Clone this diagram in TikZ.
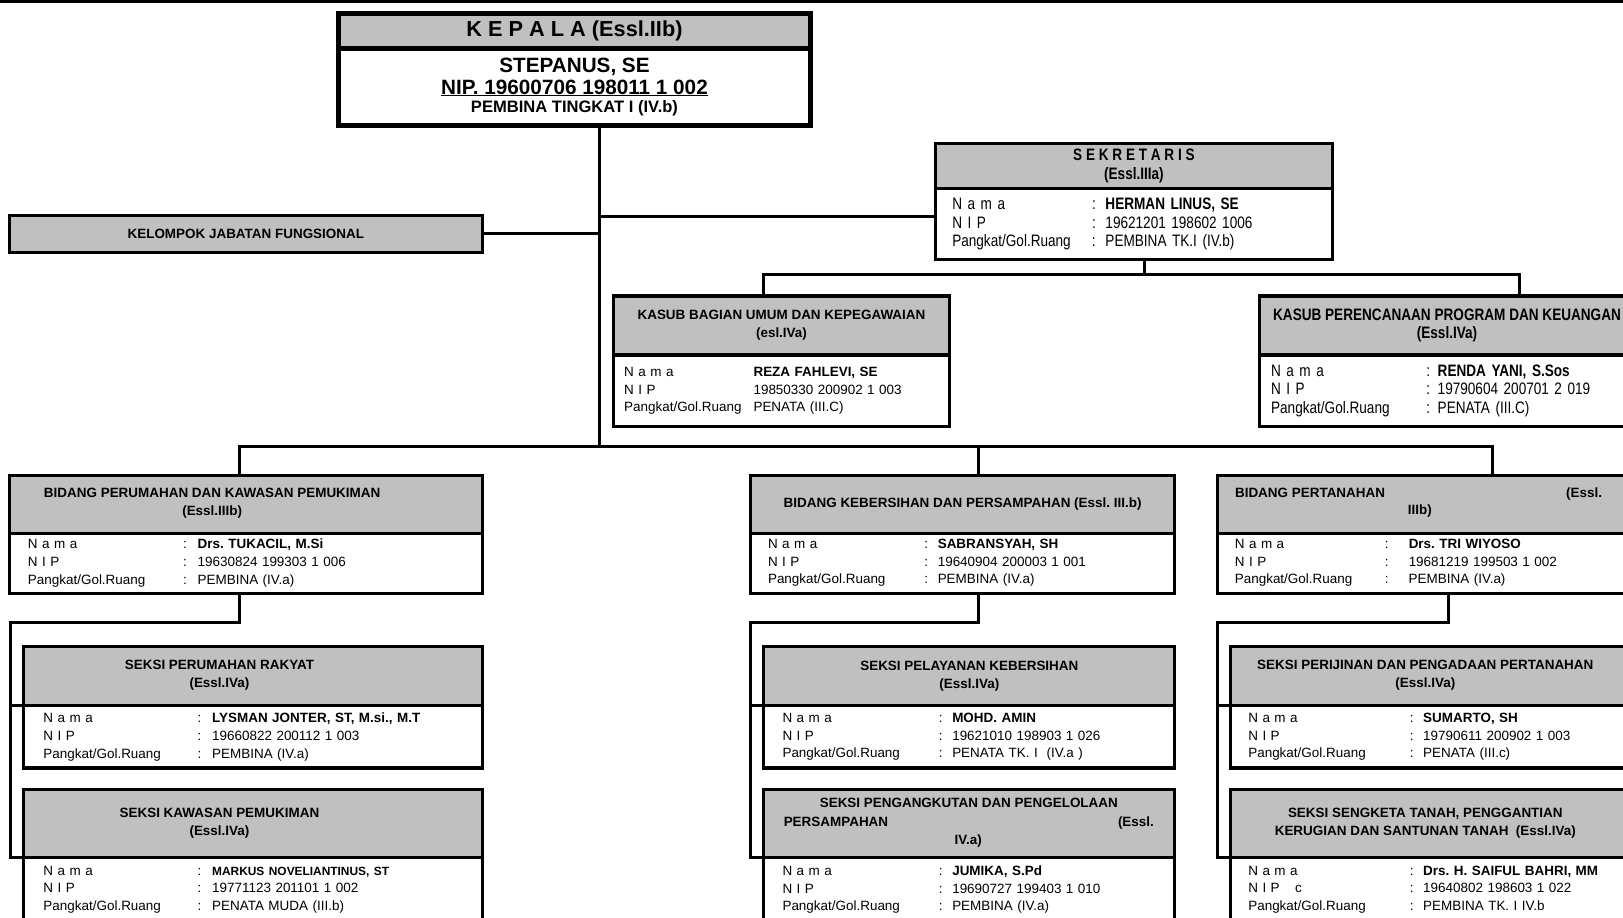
\documentclass[tikz,border=0pt]{standalone}
\usepackage{fontspec}
\setmainfont{Liberation Sans}
\newfontfamily\sempit[FakeStretch=0.82]{Liberation Sans}
\usetikzlibrary{positioning}
\definecolor{kelabu}{HTML}{C0C0C0}
\frenchspacing

\newlength\kolA
\newlength\kolB
% baris data: label, titik dua, isi
\newcommand{\baris}[3][:]{\makebox[\kolA][l]{#2}\makebox[\kolB][l]{#1}#3}

\begin{document}
\begin{tikzpicture}[x=1pt,y=-1pt,
  garis/.style={line width=3pt},
  kop/.style={draw,line width=3pt,fill=kelabu,anchor=north west,inner sep=0pt,outer sep=0pt,
              align=center,font=\fontsize{13}{17.5}\selectfont\bfseries},
  isi/.style={draw,line width=3pt,fill=white,anchor=north west,inner ysep=0pt,outer sep=0pt,
              align=left,font=\fontsize{13}{17}\selectfont},
  judul/.style={align=center,inner sep=0pt,font=\fontsize{13}{17.5}\selectfont\bfseries},
  satu/.style={judul,text height=9.5pt,text depth=2.5pt},
  ciut/.style={font=\sempit\fontsize{16}{18}\selectfont},
  kolom/.style 2 args={execute at begin node={\setlength\kolA{#1}\setlength\kolB{#2}}}
]
\useasboundingbox (0,0) rectangle (1568,886);
\clip (0,0) rectangle (1568,886);
\draw[garis] (0,1.2) -- (1568,1.2);

% kepala
\node[kop,minimum width=456pt,minimum height=34pt,line width=4.5pt,
      font=\fontsize{21}{24}\selectfont\bfseries] (kepala-h) at (327,13) {K E P A L A (Essl.IIb)};
\node[isi,minimum width=456pt,minimum height=74pt,line width=4.5pt,align=center,inner xsep=0pt,
      font=\fontsize{20}{21}\selectfont\bfseries] (kepala-i) at (kepala-h.south west)
  {STEPANUS, SE\\\underline{NIP. 19600706 198011 1 002}\\[-3pt]{\fontsize{16}{18}\selectfont PEMBINA TINGKAT I (IV.b)}};

\node[kop,minimum width=457pt,minimum height=36pt] (kjf) at (9,208) {KELOMPOK JABATAN FUNGSIONAL};

% sekretariat
\node[kop,ciut,minimum width=383pt,minimum height=43pt] (sek-h) at (904,139)
  {\bfseries S E K R E T A R I S\\\bfseries(Essl.IIIa)};
\node[isi,ciut,minimum width=383pt,minimum height=69pt,text width=351pt,inner xsep=16pt,
      kolom={135pt}{13pt}] (sek-i) at (sek-h.south west)
  {\baris{N a m a}{\textbf{HERMAN LINUS, SE}}\\\baris{N I P}{19621201 198602 1006}\\
   \baris{Pangkat/Gol.Ruang}{PEMBINA TK.I (IV.b)}};

\node[kop,minimum width=324pt,minimum height=57pt] (ku-h) at (593,286)
  {KASUB BAGIAN UMUM DAN KEPEGAWAIAN\\(esl.IVa)};
\node[isi,minimum width=324pt,minimum height=69pt,text width=304pt,inner xsep=10pt,
      kolom={125pt}{0pt}] (ku-i) at (ku-h.south west)
  {\baris[]{N a m a}{\textbf{REZA FAHLEVI, SE}}\\\baris[]{N I P}{19850330 200902 1 003}\\
   \baris[]{Pangkat/Gol.Ruang}{PENATA (III.C)}};

\node[kop,ciut,minimum width=362pt,minimum height=57pt] (kp-h) at (1217,286)
  {\bfseries KASUB PERENCANAAN PROGRAM DAN KEUANGAN\\\bfseries(Essl.IVa)};
\node[isi,ciut,minimum width=362pt,minimum height=69pt,text width=340pt,inner xsep=11pt,
      kolom={150pt}{11pt}] (kp-i) at (kp-h.south west)
  {\baris{N a m a}{\textbf{RENDA YANI, S.Sos}}\\\baris{N I P}{19790604 200701 2 019}\\
   \baris{Pangkat/Gol.Ruang}{PENATA (III.C)}};

% bidang
\node[kop,minimum width=457pt,minimum height=56pt] (bp-h) at (9,459) {};
\node[judul] (bp-t) at (205,486) {BIDANG PERUMAHAN DAN KAWASAN PEMUKIMAN\\(Essl.IIIb)};
\node[isi,minimum width=457pt,minimum height=58pt,text width=421pt,inner xsep=18pt,
      kolom={150pt}{14pt}] (bp-i) at (bp-h.south west)
  {\baris{N a m a}{\textbf{Drs. TUKACIL, M.Si}}\\\baris{N I P}{19630824 199303 1 006}\\
   \baris{Pangkat/Gol.Ruang}{PEMBINA (IV.a)}};

\node[kop,minimum width=410pt,minimum height=56pt] (bk-h) at (725,459)
  {BIDANG KEBERSIHAN DAN PERSAMPAHAN (Essl. III.b)};
\node[isi,minimum width=410pt,minimum height=58pt,text width=376pt,inner xsep=17pt,
      kolom={151pt}{13pt}] (bk-i) at (bk-h.south west)
  {\baris{N a m a}{\textbf{SABRANSYAH, SH}}\\\baris{N I P}{19640904 200003 1 001}\\
   \baris{Pangkat/Gol.Ruang}{PEMBINA (IV.a)}};

\node[kop,minimum width=414pt,minimum height=56pt] (bt-h) at (1176,459) {};
\node[satu,anchor=west] (bt-t1) at (1193,477) {BIDANG PERTANAHAN};
\node[satu,anchor=east] (bt-t2) at (1548,477) {(Essl.};
\node[satu,anchor=west] (bt-t3) at (1360,494) {IIIb)};
\node[isi,minimum width=414pt,minimum height=58pt,text width=380pt,inner xsep=17pt,
      kolom={145pt}{23pt}] (bt-i) at (bt-h.south west)
  {\baris{N a m a}{\textbf{Drs. TRI WIYOSO}}\\\baris{N I P}{19681219 199503 1 002}\\
   \baris{Pangkat/Gol.Ruang}{PEMBINA (IV.a)}};

% seksi
\node[kop,minimum width=443pt,minimum height=57pt] (sr-h) at (23,625) {};
\node[judul] (sr-t) at (212,652) {SEKSI PERUMAHAN RAKYAT\\(Essl.IVa)};
\node[isi,minimum width=443pt,minimum height=60pt,text width=405pt,inner xsep=19pt,
      kolom={149pt}{14pt}] (sr-i) at (sr-h.south west)
  {\baris{N a m a}{\textbf{LYSMAN JONTER, ST, M.si., M.T}}\\\baris{N I P}{19660822 200112 1 003}\\
   \baris{Pangkat/Gol.Ruang}{PEMBINA (IV.a)}};

\node[kop,minimum width=443pt,minimum height=65pt] (sk-h) at (23,763) {};
\node[judul] (sk-t) at (212,795) {SEKSI KAWASAN PEMUKIMAN\\(Essl.IVa)};
\node[isi,minimum width=443pt,minimum height=63pt,text width=405pt,inner xsep=19pt,
      kolom={149pt}{14pt}] (sk-i) at (sk-h.south west)
  {\baris{N a m a}{\textbf{\fontsize{11.5}{17}\selectfont MARKUS NOVELIANTINUS, ST}}\\
   \baris{N I P}{19771123 201101 1 002}\\\baris{Pangkat/Gol.Ruang}{PENATA MUDA (III.b)}};

\node[kop,minimum width=397pt,minimum height=57pt] (sp-h) at (738,625)
  {SEKSI PELAYANAN KEBERSIHAN\\(Essl.IVa)};
\node[isi,minimum width=397pt,minimum height=60pt,text width=361pt,inner xsep=18pt,
      kolom={151pt}{13pt}] (sp-i) at (sp-h.south west)
  {\baris{N a m a}{\textbf{MOHD. AMIN}}\\\baris{N I P}{19621010 198903 1 026}\\
   \baris{Pangkat/Gol.Ruang}{PENATA TK. I\ \ (IV.a )}};

\node[kop,minimum width=397pt,minimum height=65pt] (sa-h) at (738,763) {};
\node[satu] (sa-t1) at (936,777) {SEKSI PENGANGKUTAN DAN PENGELOLAAN};
\node[satu,anchor=west] (sa-t2) at (757,795) {PERSAMPAHAN};
\node[satu,anchor=east] (sa-t3) at (1115,795) {(Essl.};
\node[satu,anchor=west] (sa-t4) at (922,812) {IV.a)};
\node[isi,minimum width=397pt,minimum height=63pt,text width=361pt,inner xsep=18pt,
      kolom={151pt}{13pt}] (sa-i) at (sa-h.south west)
  {\baris{N a m a}{\textbf{JUMIKA, S.Pd}}\\\baris{N I P}{19690727 199403 1 010}\\
   \baris{Pangkat/Gol.Ruang}{PEMBINA (IV.a)}};

\node[kop,minimum width=401pt,minimum height=57pt] (si-h) at (1189,625) {};
\node[judul] (si-t) at (1377,652) {SEKSI PERIJINAN DAN PENGADAAN PERTANAHAN\\(Essl.IVa)};
\node[isi,minimum width=401pt,minimum height=60pt,text width=367pt,inner xsep=17pt,
      kolom={156pt}{13pt}] (si-i) at (si-h.south west)
  {\baris{N a m a}{\textbf{SUMARTO, SH}}\\\baris{N I P}{19790611 200902 1 003}\\
   \baris{Pangkat/Gol.Ruang}{PENATA (III.c)}};

\node[kop,minimum width=401pt,minimum height=65pt] (ss-h) at (1189,763) {};
\node[judul] (ss-t) at (1377,795) {SEKSI SENGKETA TANAH, PENGGANTIAN\\KERUGIAN DAN SANTUNAN TANAH\ \ (Essl.IVa)};
\node[isi,minimum width=401pt,minimum height=63pt,text width=367pt,inner xsep=17pt,
      kolom={156pt}{13pt}] (ss-i) at (ss-h.south west)
  {\baris{N a m a}{\textbf{Drs. H. SAIFUL BAHRI, MM}}\\\baris{N I P\hspace{15pt}c}{19640802 198603 1 022}\\
   \baris{Pangkat/Gol.Ruang}{PEMBINA TK. I IV.b}};

% garis komando
\coordinate (t1) at (579,431);
\draw[garis] (kepala-i.south -| t1) -- (t1);
\draw[garis] (kjf.east) -- (kjf.east -| t1);
\draw[garis] ([yshift=7.5pt]sek-i.west) -- ([yshift=7.5pt]sek-i.west -| t1);

\coordinate (s1) at (1106,265);
\coordinate (s2) at (738,265);
\coordinate (s3) at (1468,265);
\draw[garis] (sek-i.south -| s1) -- (s1);
\draw[garis] (s2 |- ku-h.north) -- (s2) -- (s3) -- (s3 |- kp-h.north);

\coordinate (b1) at (231,431);
\coordinate (b2) at (945,431);
\coordinate (b3) at (1442,431);
\draw[garis] (b1 |- bp-h.north) -- (b1) -- (b3) -- (b3 |- bt-h.north);
\draw[garis] (b2) -- (b2 |- bk-h.north);

\foreach \bid/\xa/\xb/\sa/\sb in {bp/231/10/sr/sk, bk/945/725/sp/sa, bt/1399/1176/si/ss}{
  \coordinate (\bid-a) at (\xa,601);
  \coordinate (\bid-b) at (\xb,601);
  \draw[garis] (\bid-i.south -| \bid-a) -- (\bid-a) -- (\bid-b) -- (\bid-b |- \sb-h.south) -- (\sb-h.south west);
  \draw[garis] (\bid-b |- \sa-h.south) -- (\sa-h.south west);
}
\end{tikzpicture}
\end{document}
